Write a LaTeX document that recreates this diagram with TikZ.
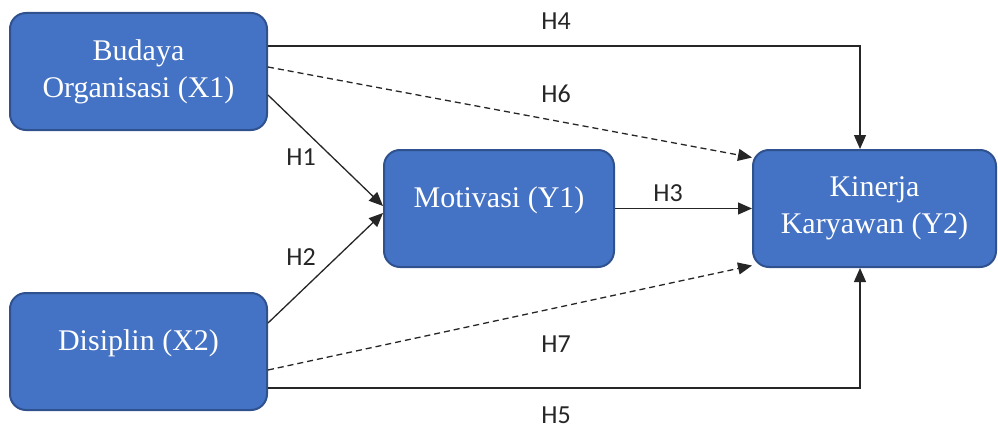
\documentclass[tikz,border=0pt]{standalone}
\usepackage{fontspec}
\setmainfont{Liberation Serif}
\newfontfamily\lblfont{Carlito}
\usetikzlibrary{arrows.meta}
\definecolor{boxfill}{HTML}{4472C4}
\definecolor{boxline}{HTML}{2F528F}
\begin{document}
\begin{tikzpicture}[x=1pt,y=-1pt,
  box/.style={draw=boxline, line width=2pt, fill=boxfill, rounded corners=16pt,
    text=white, align=center, font=\fontsize{30}{37}\selectfont, inner sep=0pt},
  conn/.style={line width=1.3pt, draw=black!85, -{Triangle[length=14pt,width=12pt]}},
  dconn/.style={conn, dash pattern=on 6pt off 4pt},
  lbl/.style={font=\lblfont\fontsize{26}{30}\selectfont, text=black!85, inner sep=0pt}]
\useasboundingbox (0,0) rectangle (998,428);
\node[box, minimum width=257pt, minimum height=117pt] (x1) at (138.5,71.5) {Budaya\\Organisasi (X1)};
\node[box, minimum width=230pt, minimum height=117pt] (y1) at (499,208.5) {\raisebox{8pt}[\height][\depth]{Motivasi (Y1)}};
\node[box, minimum width=243pt, minimum height=117pt] (y2) at (874.5,208.5) {Kinerja\\Karyawan (Y2)};
\node[box, minimum width=257pt, minimum height=117pt] (x2) at (138.5,351.5) {\raisebox{8pt}[\height][\depth]{Disiplin (X2)}};
% connectors
\draw[conn] ([yshift=25.5pt]x1.east) -| ([xshift=-14.5pt]y2.north);
\draw[dconn] ([yshift=4.5pt]x1.east) -- ([yshift=51pt]y2.west);
\draw[conn] ([yshift=-23.5pt]x1.east) -- ([yshift=2.5pt]y1.west);
\draw[conn] ([yshift=28.5pt]x2.east) -- ([yshift=-4.5pt]y1.west);
\draw[conn] (y1.east) -- (y2.west);
\draw[dconn] ([yshift=-18.5pt]x2.east) -- ([yshift=-57pt]y2.west);
\draw[conn] ([yshift=-36.5pt]x2.east) -| ([xshift=-14.5pt]y2.south);
% labels
\node[lbl] (h4) at (556,21) {H4};
\node[lbl] (h6) at (556,94) {H6};
\node[lbl] (h1) at (301,157) {H1};
\node[lbl] (h2) at (301,257) {H2};
\node[lbl] (h3) at (668,193) {H3};
\node[lbl] (h7) at (556,344) {H7};
\node[lbl] (h5) at (556,415) {H5};
\end{tikzpicture}
\end{document}
